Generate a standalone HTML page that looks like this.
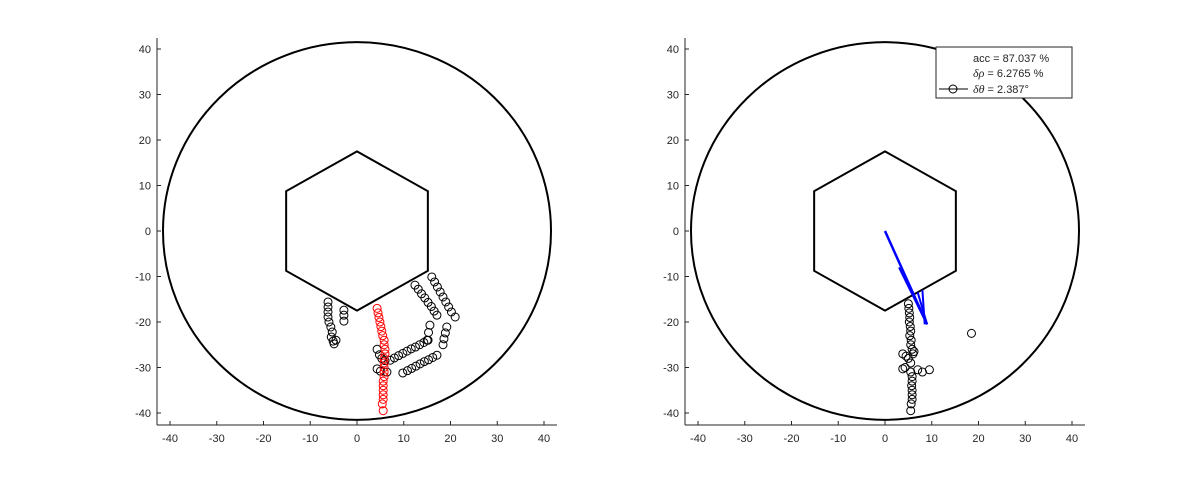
<!DOCTYPE html>
<html><head><meta charset="utf-8"><style>
body{margin:0;background:#fff;}
svg text{font-family:"Liberation Sans",sans-serif;font-size:11px;fill:#262626;}
svg text tspan.g{font-family:"Liberation Serif",serif;font-style:italic;font-size:12px;}
</style></head><body>
<svg id="c" width="1200" height="480" viewBox="0 0 1200 480"></svg>
<script>
const ticks=[-40,-30,-20,-10,0,10,20,30,40];
const redX=[4.3,4.5,4.7,4.9,5.1,5.3,5.5,5.8,5.8,6.0,6.0,5.8,5.8,5.8,5.8,5.8,5.6,5.6,5.6,5.6,5.6,5.4,5.6];
const redY=[-17,-18,-19,-20,-21,-22,-23,-24,-25,-26,-27,-28,-29,-30,-31,-32,-33,-34,-35,-36,-37,-38,-39.5];
const blkX=[-6.2,-6.2,-6.2,-6.2,-6.0,-5.6,-5.3,-5.5,-5.1,-4.9,-4.5,-2.8,-2.8,-2.8,
12.4,13.1,13.8,14.5,15.2,15.9,16.5,17.1,
16,16.6,17.2,17.8,18.4,19,19.6,20.2,21,
19.2,18.9,18.6,18.4,15.6,15.3,15,
15.2,14.3,13.4,12.5,11.6,10.7,9.8,8.9,8,7.1,
17.1,16.2,15.3,14.4,13.5,12.6,11.7,10.8,9.8,
4.3,4.8,5.3,6,4.3,5,6.4];
const blkY=[-15.6,-16.7,-17.8,-18.9,-20,-21.1,-22.2,-23.3,-24.2,-24.8,-24,-17.4,-18.5,-19.8,
-11.9,-12.8,-13.8,-14.7,-15.7,-16.6,-17.6,-18.5,
-10.1,-11.2,-12.3,-13.4,-14.5,-15.6,-16.7,-17.8,-18.9,
-21.1,-22.4,-23.7,-25,-20.7,-22.3,-24,
-24,-24.5,-25,-25.5,-25.9,-26.4,-26.9,-27.4,-27.9,-28.4,
-27.3,-27.8,-28.3,-28.7,-29.2,-29.7,-30.2,-30.7,-31.2,
-26,-27.2,-28,-28.5,-30.3,-30.8,-31];
const rX=[5.0,5.1,5.2,5.3,5.2,5.4,5.5,5.3,5.6,5.5,5.8,6.2,3.8,4.5,5.0,6.0,5.5,4.3,3.8,5.5,7.0,8.0,9.5,5.8,5.8,5.7,5.8,5.8,5.8,5.6,5.5,18.5];
const rY=[-16,-17,-18,-19,-20,-21,-22,-23,-24,-25,-26,-26.5,-27,-27.5,-28,-27,-29,-30,-30.3,-31,-30.5,-31,-30.5,-32,-33,-34,-35,-36,-37,-38,-39.5,-22.5];
const qX0=[0,5.5,7,8,3,4.5,6];
const qY0=[0,-13,-13.5,-13,-8,-11,-14];
const qX1=[9,9,9,8.5,9,9,9];
const qY1=[-20.5,-20.5,-20.5,-20.5,-20.5,-20.5,-20.5];
const NS='http://www.w3.org/2000/svg';
const svg=document.getElementById('c');
function mk(t,a,p){const e=document.createElementNS(NS,t);for(const k in a)e.setAttribute(k,a[k]);(p||svg).appendChild(e);return e;}
function panel(ox,idx){
  const cx=ox+200, sx=4.675, sy=4.55, cy=231;
  const X=v=>cx+v*sx, Y=v=>cy-v*sy;
  const g=mk('g',{});
  
  
  mk('line',{x1:ox,y1:425,x2:ox+400,y2:425,stroke:'#262626'},g);
  mk('line',{x1:ox,y1:425,x2:ox,y2:38,stroke:'#262626'},g);
  ticks.forEach(t=>{
    mk('line',{x1:X(t),y1:425,x2:X(t),y2:421,stroke:'#262626'},g);
    const tx=mk('text',{x:X(t),y:442,'text-anchor':'middle'},g);tx.textContent=t;
    
    
    mk('line',{x1:ox,y1:Y(t),x2:ox+4,y2:Y(t),stroke:'#262626'},g);
    const ty=mk('text',{x:ox-6,y:Y(t)+4,'text-anchor':'end'},g);ty.textContent=t;
    
    
  });
  const c=mk('ellipse',{cx:X(0),cy:Y(0),rx:41.5*sx,ry:41.5*sy,fill:'none',stroke:'#000','stroke-width':2},g);
  
  
  let pts=[];for(let i=0;i<6;i++){const a=Math.PI/2+i*Math.PI/3;pts.push(X(17.5*Math.cos(a))+','+Y(17.5*Math.sin(a)));}
  const h=mk('polygon',{points:pts.join(' '),fill:'none',stroke:'#000','stroke-width':2},g);
  
  
  return {g,X,Y};
}
const L=panel(157,'left');
blkX.forEach((v,i)=>{const e=mk('circle',{cx:L.X(v),cy:L.Y(blkY[i]),r:4,fill:'none',stroke:'#000'},L.g);
  
  });
redX.forEach((v,i)=>{const e=mk('circle',{cx:L.X(v),cy:L.Y(redY[i]),r:4,fill:'none',stroke:'#f00'},L.g);
  
  });
const R=panel(685,'right');
rX.forEach((v,i)=>{const e=mk('circle',{cx:R.X(v),cy:R.Y(rY[i]),r:4,fill:'none',stroke:'#000'},R.g);
  
  });
qX0.forEach((v,i)=>{const e=mk('line',{x1:R.X(v),y1:R.Y(qY0[i]),x2:R.X(qX1[i]),y2:R.Y(qY1[i]),stroke:'#00f','stroke-width':i==0?2.5:2},R.g);
  
  });
const lg=mk('g',{});


mk('rect',{x:936,y:47,width:136,height:51,fill:'#fff',stroke:'#262626'},lg);
mk('line',{x1:939,y1:89,x2:968,y2:89,stroke:'#000'},lg);
mk('circle',{cx:953,cy:89,r:4,fill:'none',stroke:'#000'},lg);
const t1=mk('text',{x:973,y:62},lg);t1.textContent='acc = 87.037 %';


const t2=mk('text',{x:973,y:77},lg);


mk('tspan',{class:'g'},t2).textContent='δρ';
mk('tspan',{},t2).textContent=' = 6.2765 %';
const t3=mk('text',{x:973,y:93},lg);


mk('tspan',{class:'g'},t3).textContent='δθ';
mk('tspan',{},t3).textContent=' = 2.387°';
</script>
</body></html>
